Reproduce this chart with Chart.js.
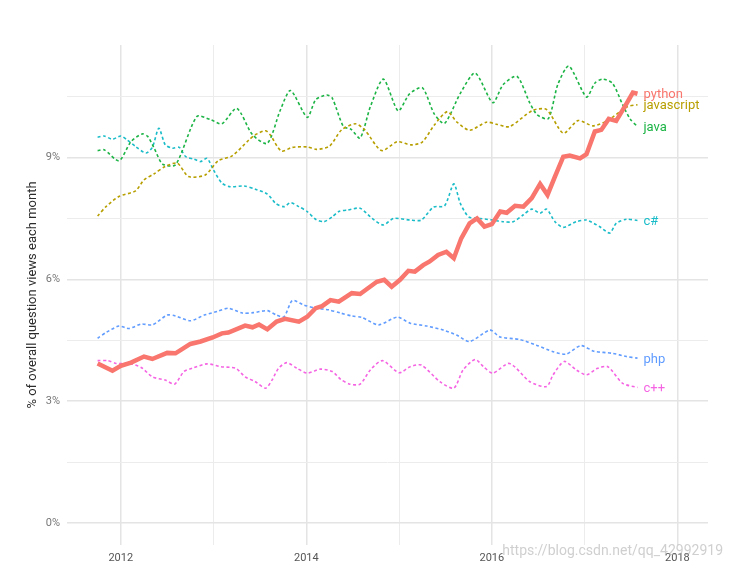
<!DOCTYPE html>
<html>
<head>
<meta charset="utf-8">
<script src="https://cdn.jsdelivr.net/npm/chart.js@4.4.1/dist/chart.umd.min.js"></script>
<style>
  html, body { margin: 0; padding: 0; background: #fff; }
</style>
</head>
<body>
<canvas id="chart" width="732" height="570"></canvas>
<script>
// ---- values: [decimal year, % of question views] ----
const python = [
  [2011.75,3.93],[2011.91,3.75],[2012.00,3.87],[2012.11,3.95],[2012.25,4.10],[2012.34,4.04],
  [2012.50,4.19],[2012.59,4.18],[2012.75,4.41],[2012.86,4.47],[2012.99,4.57],[2013.09,4.67],
  [2013.16,4.69],[2013.34,4.86],[2013.42,4.82],[2013.49,4.89],[2013.58,4.77],[2013.68,4.96],
  [2013.77,5.03],[2013.92,4.96],[2014.01,5.08],[2014.10,5.29],[2014.17,5.34],[2014.26,5.49],
  [2014.35,5.45],[2014.49,5.66],[2014.58,5.64],[2014.76,5.94],[2014.84,5.99],[2014.92,5.82],
  [2015.01,5.99],[2015.10,6.21],[2015.17,6.19],[2015.26,6.35],[2015.33,6.44],[2015.42,6.60],
  [2015.51,6.68],[2015.59,6.52],[2015.67,7.01],[2015.76,7.38],[2015.84,7.50],[2015.92,7.30],
  [2016.00,7.36],[2016.09,7.67],[2016.16,7.64],[2016.25,7.81],[2016.34,7.79],[2016.43,8.00],
  [2016.52,8.35],[2016.60,8.08],[2016.68,8.53],[2016.77,9.02],[2016.84,9.05],[2016.95,8.98],
  [2017.02,9.08],[2017.11,9.64],[2017.18,9.68],[2017.26,9.95],[2017.34,9.90],[2017.45,10.32],
  [2017.52,10.60],[2017.57,10.57]
];
const javascript = [
  [2011.75,7.56],[2011.84,7.79],[2011.98,8.04],[2012.16,8.18],[2012.25,8.45],[2012.36,8.60],
  [2012.48,8.78],[2012.61,8.86],[2012.73,8.53],[2012.91,8.57],[2013.05,8.92],[2013.20,9.04],
  [2013.38,9.43],[2013.45,9.56],[2013.56,9.66],[2013.61,9.56],[2013.73,9.16],[2013.85,9.25],
  [2014.01,9.26],[2014.11,9.20],[2014.25,9.28],[2014.38,9.68],[2014.53,9.83],[2014.63,9.68],
  [2014.81,9.17],[2014.98,9.39],[2015.13,9.31],[2015.25,9.38],[2015.38,9.80],[2015.52,10.13],
  [2015.62,9.88],[2015.76,9.67],[2015.94,9.87],[2016.05,9.82],[2016.19,9.76],[2016.44,10.16],
  [2016.59,10.18],[2016.77,9.60],[2016.93,9.91],[2017.09,9.78],[2017.24,9.90],[2017.46,10.25],
  [2017.57,10.30]
];
const java = [
  [2011.75,9.17],[2011.82,9.19],[2011.98,8.92],[2012.11,9.39],[2012.23,9.58],[2012.29,9.52],
  [2012.36,9.23],[2012.45,8.84],[2012.59,8.82],[2012.82,10.01],[2012.97,9.93],[2013.09,9.83],
  [2013.25,10.21],[2013.42,9.56],[2013.58,9.35],[2013.72,10.17],[2013.83,10.65],[2014.01,9.99],
  [2014.10,10.42],[2014.22,10.54],[2014.28,10.46],[2014.40,9.76],[2014.48,9.70],[2014.58,9.48],
  [2014.69,10.25],[2014.83,10.93],[2014.99,10.15],[2015.11,10.56],[2015.25,10.72],[2015.38,10.07],
  [2015.49,9.84],[2015.66,10.58],[2015.82,11.08],[2016.01,10.35],[2016.12,10.79],[2016.27,11.00],
  [2016.41,10.34],[2016.49,10.05],[2016.61,9.96],[2016.71,10.79],[2016.83,11.25],[2017.02,10.49],
  [2017.11,10.83],[2017.19,10.93],[2017.30,10.83],[2017.41,10.30],[2017.49,9.95],[2017.57,9.76]
];
const csharp = [
  [2011.75,9.50],[2011.82,9.53],[2011.91,9.45],[2012.00,9.53],[2012.07,9.43],[2012.16,9.27],
  [2012.27,9.11],[2012.34,9.25],[2012.41,9.72],[2012.48,9.31],[2012.56,9.23],[2012.63,9.25],
  [2012.70,9.02],[2012.79,8.96],[2012.86,8.90],[2012.93,8.98],[2013.00,8.69],[2013.09,8.37],
  [2013.18,8.28],[2013.33,8.30],[2013.45,8.22],[2013.58,8.10],[2013.67,7.87],[2013.76,7.79],
  [2013.83,7.89],[2013.92,7.79],[2014.01,7.67],[2014.10,7.48],[2014.19,7.42],[2014.28,7.54],
  [2014.35,7.67],[2014.45,7.71],[2014.58,7.75],[2014.71,7.50],[2014.83,7.34],[2014.94,7.50],
  [2015.12,7.46],[2015.24,7.46],[2015.37,7.78],[2015.49,7.81],[2015.59,8.35],[2015.66,7.87],
  [2015.75,7.54],[2015.87,7.50],[2016.01,7.46],[2016.12,7.42],[2016.23,7.42],[2016.34,7.59],
  [2016.43,7.73],[2016.52,7.63],[2016.59,7.73],[2016.68,7.42],[2016.77,7.28],[2016.91,7.42],
  [2017.02,7.46],[2017.16,7.30],[2017.27,7.14],[2017.34,7.38],[2017.45,7.48],[2017.57,7.45]
];
const php = [
  [2011.75,4.55],[2011.84,4.69],[2011.98,4.85],[2012.09,4.79],[2012.22,4.90],[2012.34,4.88],
  [2012.50,5.12],[2012.59,5.10],[2012.75,4.98],[2012.90,5.12],[2013.04,5.21],[2013.16,5.29],
  [2013.31,5.17],[2013.43,5.18],[2013.58,5.23],[2013.68,5.12],[2013.76,5.08],[2013.85,5.48],
  [2013.97,5.37],[2014.10,5.29],[2014.24,5.25],[2014.37,5.17],[2014.49,5.10],[2014.60,5.06],
  [2014.78,4.88],[2014.98,5.07],[2015.12,4.92],[2015.30,4.85],[2015.48,4.75],[2015.62,4.63],
  [2015.76,4.47],[2015.98,4.75],[2016.09,4.58],[2016.30,4.52],[2016.48,4.38],[2016.66,4.22],
  [2016.80,4.16],[2016.96,4.37],[2017.10,4.23],[2017.30,4.18],[2017.45,4.10],[2017.57,4.06]
];
const cpp = [
  [2011.75,4.00],[2011.86,4.00],[2011.95,3.93],[2012.09,3.93],[2012.22,3.83],[2012.34,3.60],
  [2012.48,3.52],[2012.58,3.42],[2012.68,3.73],[2012.77,3.81],[2012.93,3.92],[2013.08,3.85],
  [2013.24,3.81],[2013.34,3.60],[2013.45,3.48],[2013.56,3.32],[2013.63,3.52],[2013.70,3.81],
  [2013.79,3.95],[2013.90,3.81],[2014.01,3.69],[2014.15,3.79],[2014.28,3.73],[2014.37,3.54],
  [2014.47,3.42],[2014.58,3.42],[2014.69,3.77],[2014.82,4.00],[2015.00,3.70],[2015.12,3.85],
  [2015.24,3.89],[2015.44,3.48],[2015.59,3.32],[2015.69,3.77],[2015.82,4.03],[2015.91,3.85],
  [2016.01,3.69],[2016.19,3.93],[2016.41,3.48],[2016.59,3.36],[2016.66,3.65],[2016.78,3.98],
  [2016.91,3.77],[2017.02,3.65],[2017.14,3.81],[2017.25,3.85],[2017.41,3.44],[2017.57,3.34]
];

const seriesNames = ['python', 'javascript', 'java', 'c#', 'php', 'c++'];
const seriesData  = [python, javascript, java, csharp, php, cpp];
const seriesColors = ['#F8766D', '#B79F00', '#1DB446', '#19BCC8', '#619CFF', '#F564E3'];

const xTicks = [2012, 2013, 2014, 2015, 2016, 2017, 2018];
const xLabels = ['2012', '', '2014', '', '2016', '', '2018'];
const yTicks = [0, 1.5, 3, 4.5, 6, 7.5, 9, 10.5];
const yLabels = ['0%', '', '3%', '', '6%', '', '9%', ''];

// ---- labels at the end of each line ----
const endLabels = {
  id: 'endLabels',
  afterDatasetsDraw(chart) {
    const ctx = chart.ctx;
    chart.data.datasets.forEach((ds, i) => {
      const meta = chart.getDatasetMeta(i);
      const pt = meta.data[meta.data.length - 1];
      if (!pt) return;
      ctx.save();
      ctx.font = '13px Roboto';
      ctx.fillStyle = ds.borderColor;
      ctx.textBaseline = 'middle';
      ctx.fillText(ds.label, pt.x + 6, pt.y + 1.5);
      ctx.restore();
    });
  }
};

const watermark = {
  id: 'watermark',
  afterDraw(chart) {
    const ctx = chart.ctx;
    ctx.save();
    ctx.font = '14px Roboto';
    ctx.fillStyle = 'rgba(175,175,175,0.6)';
    ctx.textAlign = 'right';
    ctx.textBaseline = 'middle';
    ctx.fillText('https://blog.csdn.net/qq_42992919', 723, 551);
    ctx.restore();
  }
};

const datasets = seriesNames.map((name, i) => ({
  label: name,
  data: seriesData[i].map(([x, y]) => ({ x, y })),
  borderColor: seriesColors[i],
  borderWidth: name === 'python' ? 4.5 : 1.6,
  borderDash: name === 'python' ? [] : [3, 2.5],
  tension: name === 'python' ? 0 : 0.25,
  pointRadius: 0,
  fill: false
}));

new Chart(document.getElementById('chart'), {
  type: 'line',
  data: { datasets },
  plugins: [endLabels, watermark],
  options: {
    responsive: false,
    animation: false,
    devicePixelRatio: 1,
    layout: { padding: { left: 21, right: 24, top: 45, bottom: 0 } },
    plugins: { legend: { display: false }, tooltip: { enabled: false } },
    scales: {
      x: {
        type: 'linear',
        min: 2011.42,
        max: 2018.33,
        afterBuildTicks: s => { s.ticks = xTicks.map(v => ({ value: v })); },
        afterFit: s => { s.height = 25; },
        border: { display: false },
        grid: {
          drawTicks: false,
          color: ctx => (ctx.tick && ctx.tick.value % 2 === 0) ? '#e4e4e4' : '#ececec',
          lineWidth: ctx => (ctx.tick && ctx.tick.value % 2 === 0) ? 1.5 : 1
        },
        ticks: {
          padding: 7,
          color: '#555',
          font: { family: 'Roboto', size: 11 },
          maxRotation: 0,
          autoSkip: false,
          callback: (v, i) => xLabels[i]
        }
      },
      y: {
        type: 'linear',
        min: -0.54,
        max: 11.77,
        afterBuildTicks: s => { s.ticks = yTicks.map(v => ({ value: v })); },
        afterFit: s => { s.width = 46; },
        border: { display: false },
        grid: {
          drawTicks: false,
          color: ctx => (ctx.tick && ctx.tick.value % 3 === 0) ? '#e4e4e4' : '#ececec',
          lineWidth: ctx => (ctx.tick && ctx.tick.value % 3 === 0) ? 1.5 : 1
        },
        ticks: {
          padding: 7,
          color: '#777',
          font: { family: 'Roboto', size: 11 },
          autoSkip: false,
          callback: (v, i) => yLabels[i]
        },
        title: {
          display: true,
          text: '% of overall question views each month',
          color: '#2b2b2b',
          font: { family: 'Roboto', size: 13 },
          padding: { top: 4, bottom: 4 }
        }
      }
    }
  }
});
</script>
</body>
</html>
